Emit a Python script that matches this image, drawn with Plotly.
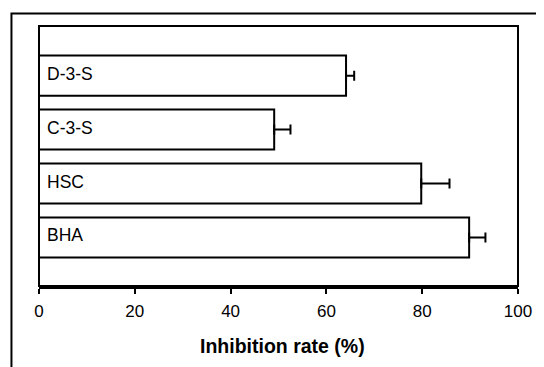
import plotly.graph_objects as go

categories = ["BHA", "HSC", "C-3-S", "D-3-S"]
values = [89.8, 79.8, 49.1, 64.1]
errors = [3.4, 5.9, 3.4, 1.7]
errors_minus = [0, 0, 0, 0]
tick_vals = [0, 20, 40, 60, 80, 100]
x_title = "<b>Inhibition rate (%)</b>"

FONT = "Liberation Sans, Arial, sans-serif"

fig = go.Figure()
fig.add_trace(go.Bar(
    y=categories, x=values, orientation="h",
    width=0.742,
    marker=dict(color="white", line=dict(color="black", width=2)),
    error_x=dict(type="data", array=errors, arrayminus=errors_minus,
                 symmetric=False, color="black", thickness=2, width=5),
    hoverinfo="skip",
))

for c in categories:
    fig.add_annotation(x=0, y=c, xref="x", yref="y", text=c, showarrow=False,
                       xanchor="left", yanchor="middle", xshift=6, yshift=2,
                       font=dict(family=FONT, size=17.5, color="black"))

# axis title as annotation (slightly right of centre, as in the reference)
fig.add_annotation(x=0.5, y=-0.23, xref="paper", yref="paper", text=x_title,
                   showarrow=False, xanchor="center", yanchor="middle", xshift=4,
                   font=dict(family=FONT, size=19.5, color="black"))

# plot-area frame
fig.add_shape(type="rect", xref="paper", yref="paper", x0=0, x1=1, y0=0, y1=1,
              line=dict(color="black", width=2), layer="above")
# outer figure frame (clipped by page edges)
fig.add_shape(type="rect", xref="paper", yref="paper", x0=-0.0575, x1=1.5,
              y0=-1.0, y1=1.048, line=dict(color="black", width=2), layer="above")

fig.update_layout(
    width=536, height=359,
    margin=dict(l=31, r=24, t=18, b=81),
    paper_bgcolor="white", plot_bgcolor="white",
    showlegend=False,
    font=dict(family=FONT, color="black"),
    xaxis=dict(range=[0, 100], tickvals=tick_vals, ticks="outside", ticklen=5,
               tickwidth=2, tickcolor="black", showline=True, linewidth=3,
               linecolor="black", showgrid=False, zeroline=False,
               ticklabelstandoff=3,
               tickfont=dict(family=FONT, size=17, color="black")),
    yaxis=dict(range=[-0.9, 3.92], showticklabels=False, ticks="",
               showline=False, showgrid=False, zeroline=False),
)

fig.write_html("out.html")
